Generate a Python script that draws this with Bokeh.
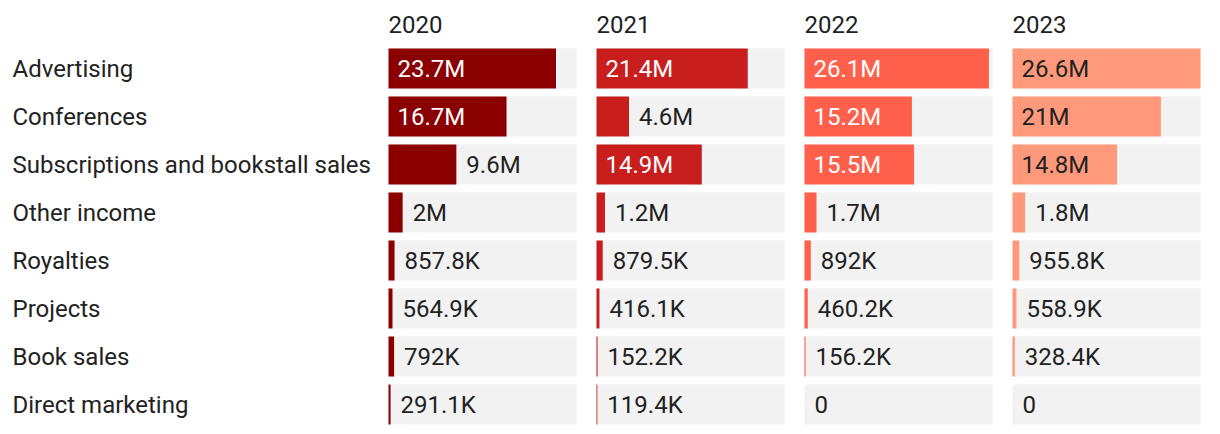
from bokeh.plotting import figure
from bokeh.models import ColumnDataSource, Range1d
from bokeh.embed import file_html
from bokeh.resources import INLINE
from bokeh.core.properties import value

categories = ["Advertising", "Conferences", "Subscriptions and bookstall sales",
              "Other income", "Royalties", "Projects", "Book sales", "Direct marketing"]
years = ["2020", "2021", "2022", "2023"]
v2020 = [23.7e6, 16.7e6, 9.6e6, 2.0e6, 857.8e3, 564.9e3, 792.0e3, 291.1e3]
v2021 = [21.4e6, 4.6e6, 14.9e6, 1.2e6, 879.5e3, 416.1e3, 152.2e3, 119.4e3]
v2022 = [26.1e6, 15.2e6, 15.5e6, 1.7e6, 892.0e3, 460.2e3, 156.2e3, 0.0]
v2023 = [26.6e6, 21.0e6, 14.8e6, 1.8e6, 955.8e3, 558.9e3, 328.4e3, 0.0]
series = [v2020, v2021, v2022, v2023]
colors = ["#8b0000", "#c81e1e", "#ff604c", "#fe9a7b"]
inside_text_colors = ["#ffffff", "#ffffff", "#ffffff", "#222222"]

FONT = "Roboto"
TXT = "#222222"


def fmt(v):
    if v == 0:
        return "0"
    if v >= 1e6:
        s = f"{v / 1e6:.1f}".rstrip("0").rstrip(".")
        return s + "M"
    s = f"{v / 1e3:.1f}".rstrip("0").rstrip(".")
    return s + "K"


W, H = 1212, 428
vmax = max(max(s) for s in series)
PANEL_PX = 188
PX = vmax / PANEL_PX          # data units per pixel
PITCH = 208 * PX
X0 = -388 * PX
ROW = 48.0
Y_TOP = -68 / ROW

p = figure(width=W, height=H,
           x_range=Range1d(X0, X0 + W * PX),
           y_range=Range1d(Y_TOP + H / ROW, Y_TOP),
           x_axis_location=None, y_axis_location=None,
           min_border=0, output_backend="svg", toolbar_location=None,
           background_fill_color="white", border_fill_color="white")
p.grid.visible = False
p.outline_line_color = None

rows = list(range(len(categories)))

# category labels
p.text(x=[X0 + 12 * PX] * len(categories), y=rows, text=categories,
       text_font=value(FONT), text_font_size="24px", text_color=TXT,
       text_align="left", text_baseline="middle")

for k, (yr, vals) in enumerate(zip(years, series)):
    left = k * PITCH
    # background
    p.hbar(y=rows, left=left, right=left + vmax, height=40 / ROW,
           fill_color="#f2f2f2", line_color=None)
    p.hbar(y=rows, left=left, right=[left + v for v in vals], height=40 / ROW,
           fill_color=colors[k], line_color=None)
    # year title
    p.text(x=[left + 0 * PX], y=[Y_TOP + 24 / ROW], text=[yr],
           text_font=value(FONT), text_font_size="24px", text_color=TXT,
           text_align="left", text_baseline="middle")
    xs, tc = [], []
    for v in vals:
        if v / vmax > 0.45:
            xs.append(left + 9 * PX)
            tc.append(inside_text_colors[k])
        else:
            xs.append(left + v + 10 * PX)
            tc.append(TXT)
    src = ColumnDataSource(dict(x=xs, y=rows, t=[fmt(v) for v in vals], c=tc))
    p.text(x="x", y="y", text="t", text_color="c", source=src,
           text_font=value(FONT), text_font_size="24px",
           text_align="left", text_baseline="middle")

open("out.html", "w").write(file_html(p, INLINE))
